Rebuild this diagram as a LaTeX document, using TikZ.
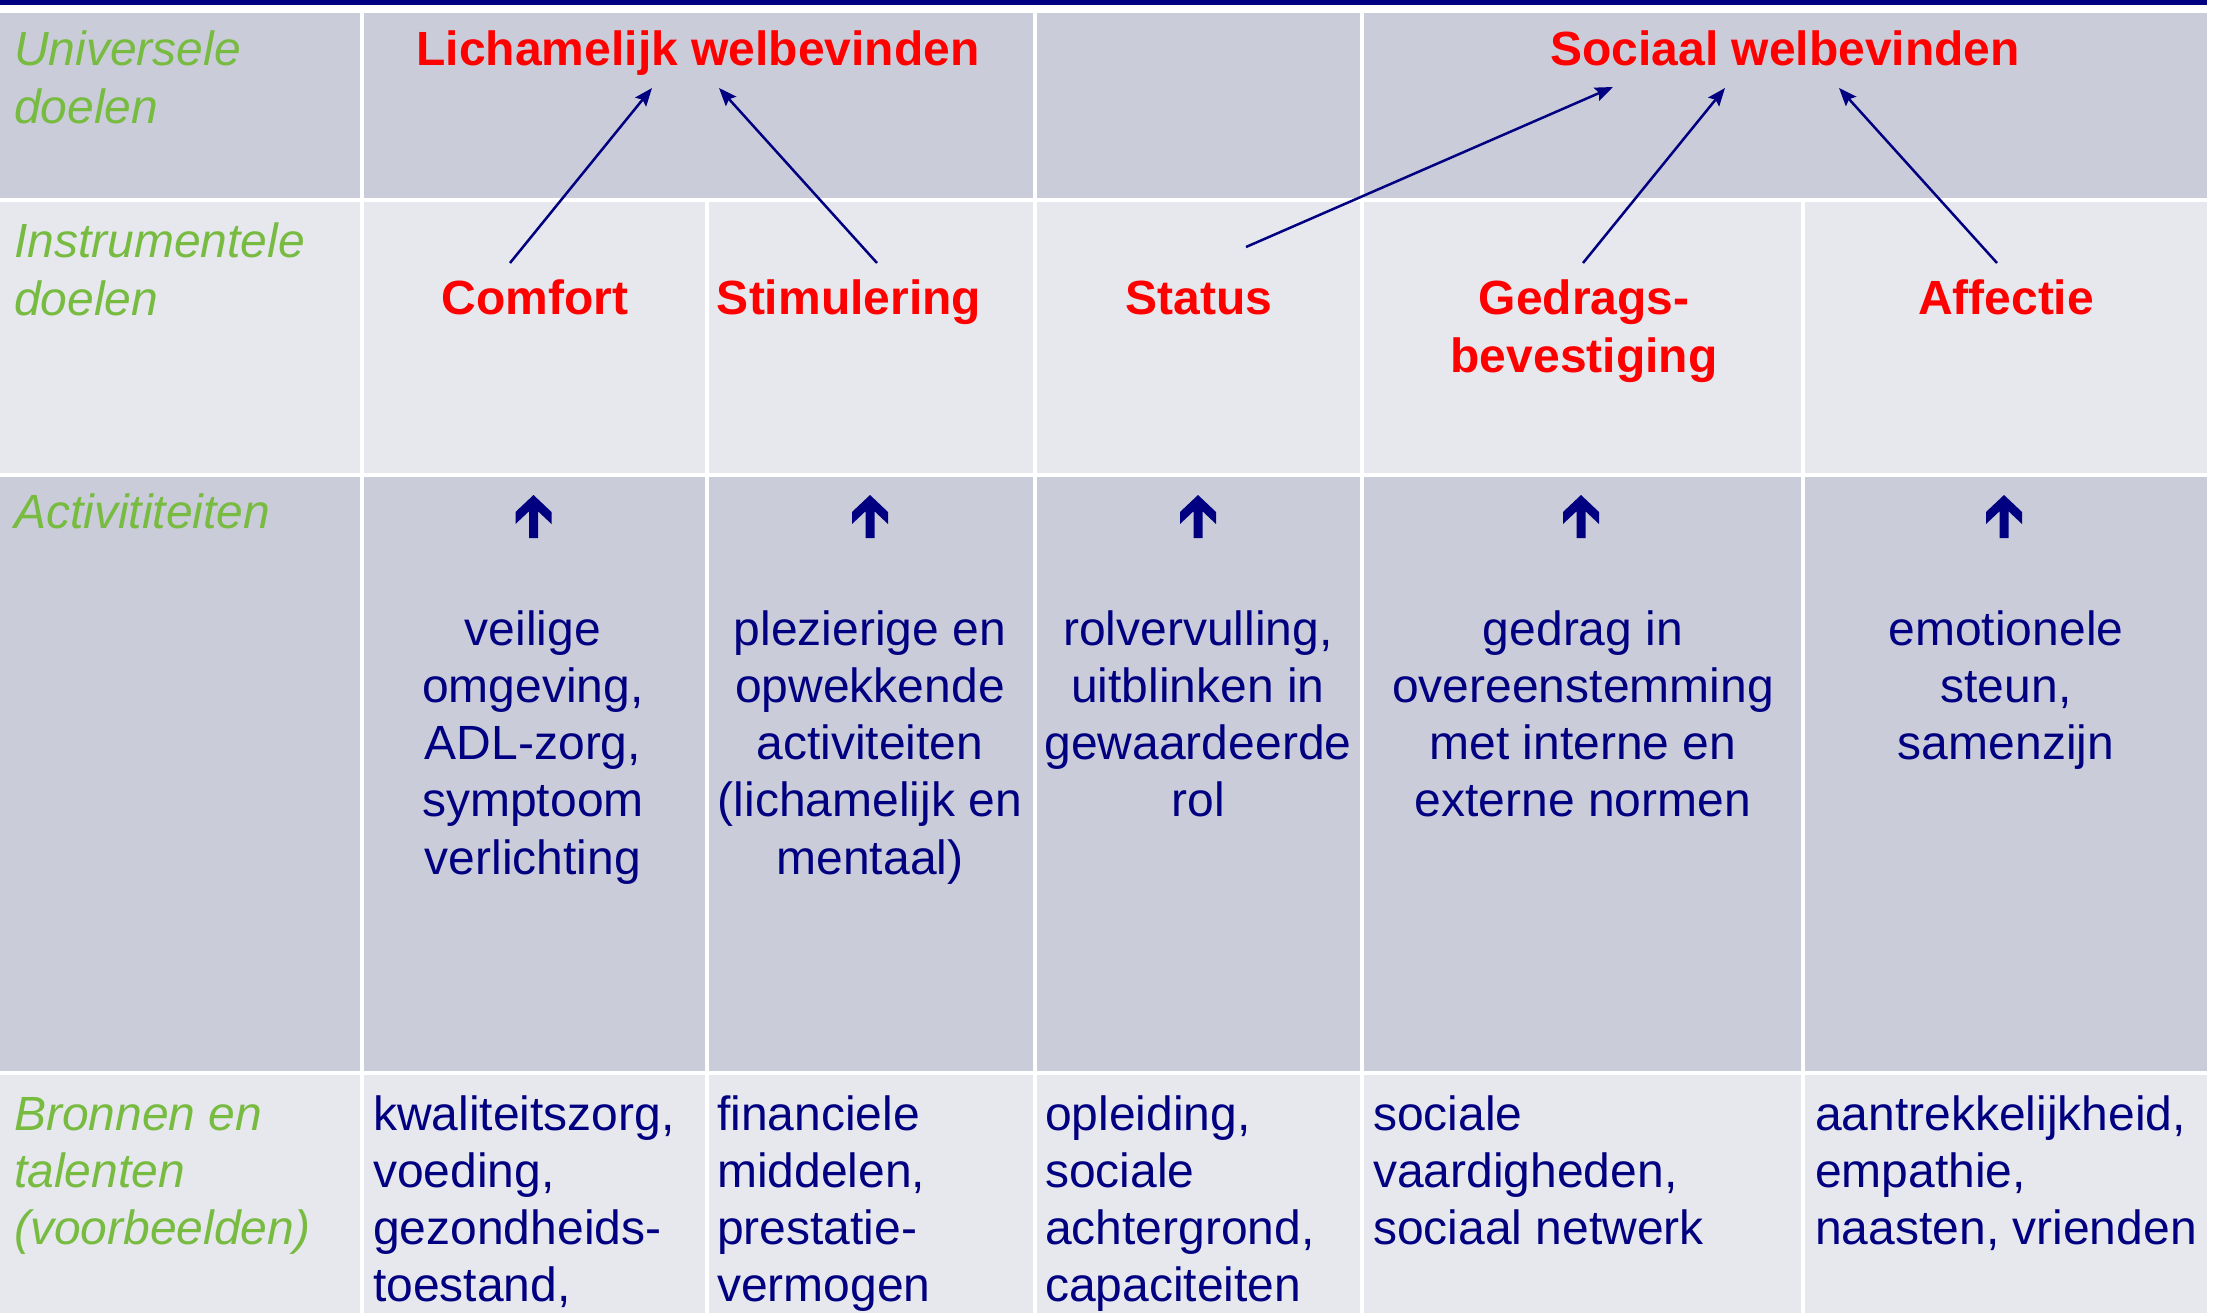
\documentclass[tikz,border=0pt]{standalone}
\usepackage{fontspec}
\setmainfont{Liberation Sans}
\usetikzlibrary{arrows.meta}
\definecolor{navy}{RGB}{0,0,128}
\definecolor{rowdark}{RGB}{203,204,217}
\definecolor{rowlight}{RGB}{231,231,238}
\definecolor{lblgreen}{RGB}{119,187,65}
\definecolor{goalred}{RGB}{255,0,0}
\newcommand\lns[2]{\begin{tabular}[t]{@{}#1@{}}#2\end{tabular}}
\begin{document}
\begin{tikzpicture}[x=1pt,y=-1pt,
  big/.style={inner sep=0pt, font=\fontsize{48}{57.3}\selectfont},
  lbl/.style={big, anchor=base west, text=lblgreen, font=\fontsize{48}{57.3}\selectfont\itshape},
  goal/.style={big, anchor=base, text=goalred, font=\fontsize{48}{57.3}\selectfont\bfseries},
  act/.style={big, anchor=base, text=navy},
  src/.style={big, anchor=base west, text=navy},
  link/.style={draw=navy, line width=2.5pt, -{Stealth[length=18pt,width=14pt,inset=3pt]}},
  uparrow/.style={fill=navy},
  grid/.style={draw=white, line width=4pt}
]
\useasboundingbox (0,0) rectangle (2218,1313);
\fill[white] (0,0) rectangle (2218,1313);
% top bar
\fill[navy] (0,0) rectangle (2207,5.5);
% row bands
\fill[rowdark]  (0,13)   rectangle (2207,200);
\fill[rowlight] (0,200)  rectangle (2207,474.5);
\fill[rowdark]  (0,474.5) rectangle (2207,1072.5);
\fill[rowlight] (0,1072.5) rectangle (2207,1313);
% grid lines
\draw[grid] (0,200) -- (2207,200);
\draw[grid] (0,474.5) -- (2207,474.5);
\draw[grid] (0,1072.5) -- (2207,1072.5);
\draw[grid] (362,13) -- (362,1313);
\draw[grid] (1035,13) -- (1035,1313);
\draw[grid] (1362,13) -- (1362,1313);
\draw[grid] (707,200) -- (707,1313);
\draw[grid] (1803,200) -- (1803,1313);

% row labels
\node[lbl] (l1) at (14,66) {\lns{l}{Universele\\doelen}};
\node[lbl] (l2) at (14,258) {\lns{l}{Instrumentele\\doelen}};
\node[lbl] (l3) at (14,528) {Activititeiten};
\node[lbl] (l4) at (14,1130) {\lns{l}{Bronnen en\\talenten\\(voorbeelden)}};

% universal goals
\node[goal] (lich) at (698,66) {Lichamelijk welbevinden};
\node[goal] (soc) at (1785,66) {Sociaal welbevinden};

% instrumental goals
\node[goal] (comfort) at (535,315) {Comfort};
\node[goal] (stim) at (849,315) {Stimulering};
\node[goal] (status) at (1199,315) {Status};
\node[goal] (gedrag) at (1584,315) {\lns{c}{Gedrags-\\bevestiging}};
\node[goal] (affectie) at (2006,315) {Affectie};

% connectors
\coordinate (cS) at (510,263);  \coordinate (cT) at (652,88);
\coordinate (sS) at (877,263);  \coordinate (sT) at (719,88);
\coordinate (stS) at (1246,247); \coordinate (stT) at (1613,87);
\coordinate (gS) at (1583,263); \coordinate (gT) at (1725,88);
\coordinate (aS) at (1997,263); \coordinate (aT) at (1839,88);
\draw[link] (cS) -- (cT);
\draw[link] (sS) -- (sT);
\draw[link] (stS) -- (stT);
\draw[link] (gS) -- (gT);
\draw[link] (aS) -- (aT);

% up arrows (thick chevron arrows)
\foreach \x in {533.5,870,1198,1581,2004}{
  \fill[uparrow] (\x,495) -- ++(18,17) -- ++(0,12) -- ++(-13.5,-12.7)
    -- ++(0,26.7) -- ++(-9,0) -- ++(0,-26.7) -- ++(-13.5,12.7)
    -- ++(0,-12) -- cycle;
}

% activities
\node[act] (a1) at (533,645) {\lns{c}{veilige\\omgeving,\\ADL-zorg,\\symptoom\\verlichting}};
\node[act] (a2) at (870,645) {\lns{c}{plezierige en\\opwekkende\\activiteiten\\(lichamelijk en\\mentaal)}};
\node[act] (a3) at (1198,645) {\lns{c}{rolvervulling,\\uitblinken in\\gewaardeerde\\rol}};
\node[act] (a4) at (1583,645) {\lns{c}{gedrag in\\overeenstemming\\met interne en\\externe normen}};
\node[act] (a5) at (2006,645) {\lns{c}{emotionele\\steun,\\samenzijn}};

% sources
\node[src] (b1) at (373,1130) {\lns{l}{kwaliteitszorg,\\voeding,\\gezondheids-\\toestand,}};
\node[src] (b2) at (717,1130) {\lns{l}{financiele\\middelen,\\prestatie-\\vermogen}};
\node[src] (b3) at (1045,1130) {\lns{l}{opleiding,\\sociale\\achtergrond,\\capaciteiten}};
\node[src] (b4) at (1373,1130) {\lns{l}{sociale\\vaardigheden,\\sociaal netwerk}};
\node[src] (b5) at (1815,1130) {\lns{l}{aantrekkelijkheid,\\empathie,\\naasten, vrienden}};
\end{tikzpicture}
\end{document}
